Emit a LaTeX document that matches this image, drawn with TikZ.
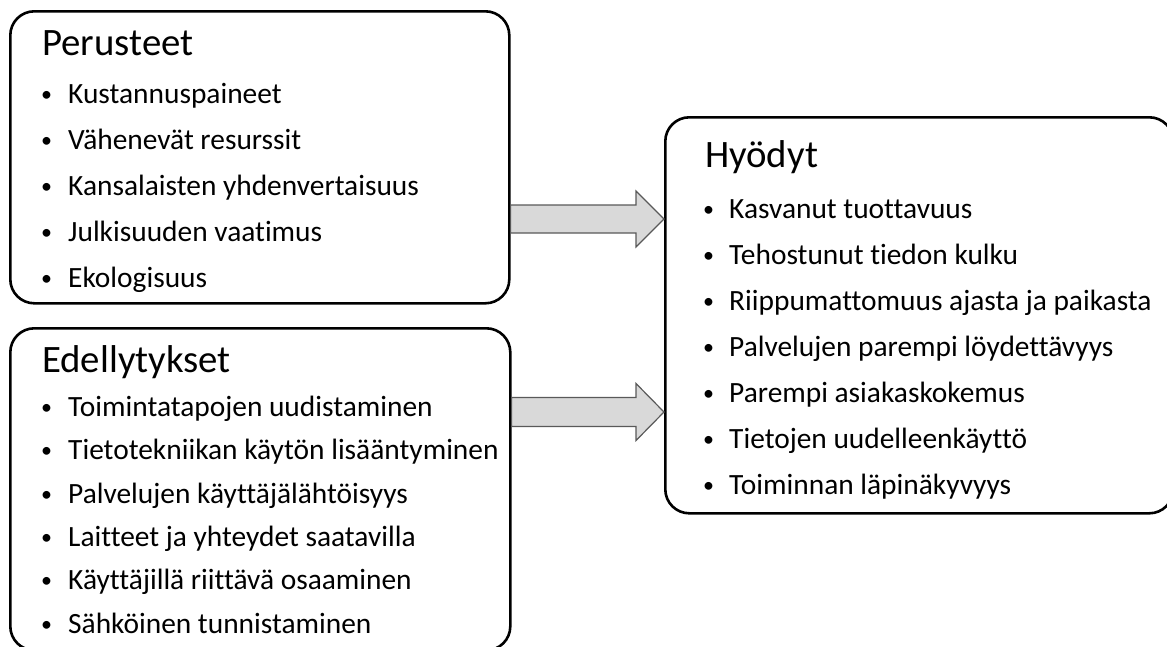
\documentclass[tikz,border=0pt]{standalone}
\usepackage{fontspec}
\setmainfont{Carlito}[Ligatures={NoCommon,NoContextual}]
\usetikzlibrary{calc}

\tikzset{
  panel/.style={draw=black, line width=2.6pt, rounded corners=24pt, fill=white},
  heading/.style={anchor=base west, inner sep=0pt, font=\fontsize{38.8}{44}\selectfont},
  item/.style={anchor=base west, inner sep=0pt, font=\fontsize{29.4}{32}\selectfont},
  dot/.style={anchor=center, inner sep=0pt, font=\fontsize{22}{24}\selectfont},
  blockarrow/.style={draw=black!65, line width=1.2pt, fill=black!15, line join=miter}
}

\begin{document}
\begin{tikzpicture}[x=1pt, y=-1pt]
  \useasboundingbox (0,0) rectangle (1167,646);
  \clip (0,0) rectangle (1167,646);

  % the three panels
  \node[panel, minimum width=499pt, minimum height=292pt, anchor=north west] (b1) at (9,10) {};
  \node[panel, minimum width=500pt, minimum height=322pt, anchor=north west] (b2) at (9,327) {};
  \node[panel, minimum width=508pt, minimum height=396pt, anchor=north west] (b3) at (664,116) {};

  % Perusteet
  \node[heading] (t1) at (42,55) {Perusteet};
  \foreach \txt [count=\i] in {Kustannuspaineet, Vähenevät resurssit,
      Kansalaisten yhdenvertaisuus, Julkisuuden vaatimus, Ekologisuus} {
    \node[dot]  (d1-\i) at (46.5,{103-7+46*(\i-1)}) {•};
    \node[item] (i1-\i) at (68,{103+46*(\i-1)}) {\txt};
  }

  % Edellytykset
  \node[heading] (t2) at (42,372) {Edellytykset};
  \foreach \txt [count=\i] in {Toimintatapojen uudistaminen,
      Tietotekniikan käytön lisääntyminen, Palvelujen käyttäjälähtöisyys,
      Laitteet ja yhteydet saatavilla, Käyttäjillä riittävä osaaminen,
      Sähköinen tunnistaminen} {
    \node[dot]  (d2-\i) at (46.5,{416.5-7+43.3*(\i-1)}) {•};
    \node[item] (i2-\i) at (68,{416.5+43.3*(\i-1)}) {\txt};
  }

  % Hyödyt
  \node[heading] (t3) at (705,167) {Hyödyt};
  \foreach \txt [count=\i] in {Kasvanut tuottavuus, Tehostunut tiedon kulku,
      Riippumattomuus ajasta ja paikasta, Palvelujen parempi löydettävyys,
      Parempi asiakaskokemus, Tietojen uudelleenkäyttö,
      Toiminnan läpinäkyvyys} {
    \node[dot]  (d3-\i) at (708.5,{218-7+46*(\i-1)}) {•};
    \node[item] (i3-\i) at (729,{218+46*(\i-1)}) {\txt};
  }

  % block arrows from the left panels to the right panel
  \coordinate (a1s) at (b1.east |- 0,219);
  \coordinate (a1t) at (b3.west |- a1s);
  \draw[blockarrow] ($(a1s)+(0,-14)$) -- ($(a1t)+(-28,-14)$) -- ($(a1t)+(-28,-28)$)
    -- (a1t) -- ($(a1t)+(-28,28)$) -- ($(a1t)+(-28,14)$) -- ($(a1s)+(0,14)$) -- cycle;

  \coordinate (a2s) at (b2.east |- 0,412);
  \coordinate (a2t) at (b3.west |- a2s);
  \draw[blockarrow] ($(a2s)+(0,-14.5)$) -- ($(a2t)+(-28,-14.5)$) -- ($(a2t)+(-28,-28.5)$)
    -- (a2t) -- ($(a2t)+(-28,28.5)$) -- ($(a2t)+(-28,14.5)$) -- ($(a2s)+(0,14.5)$) -- cycle;
\end{tikzpicture}
\end{document}
